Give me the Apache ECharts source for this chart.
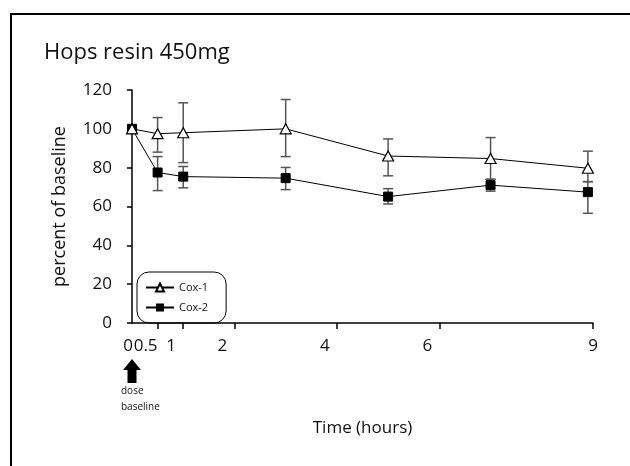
<!DOCTYPE html>
<html>
<head>
<meta charset="utf-8">
<style>
  html, body { margin: 0; padding: 0; background: #fff; }
  #main { width: 630px; height: 466px; }
</style>
<script src="https://cdn.jsdelivr.net/npm/echarts@6/dist/echarts.min.js"></script>
</head>
<body>
<div id="main"></div>
<script>
// hours after dose
var times = [0, 0.5, 1, 3, 5, 7, 8.9];
// percent of baseline, mean and error bar ends
var cox1 = [100, 97.5, 98, 100, 86, 84.7, 79.7];
var cox1Low = [100, 88, 82.6, 85.7, 75.8, 74, 72.8];
var cox1High = [100, 105.8, 113.4, 115.1, 94.8, 95.5, 88.5];
var cox2 = [100, 77.5, 75.4, 74.6, 65.1, 71, 67.4];
var cox2Low = [100, 68.2, 69.6, 68.7, 61.3, 67.9, 56.5];
var cox2High = [100, 85.7, 80.6, 80.1, 69.2, 74, 72.8];
// axis ticks
var xTickValues = [0.5, 1, 2, 4, 6, 9];
var xLabelValues = [0, 0.5, 1, 2, 4, 6, 9];

var FONT = 'Open Sans';
var chart = echarts.init(document.getElementById('main'));

function pairs(ys) {
  return times.map(function (t, i) { return [t, ys[i]]; });
}
function errData(lo, hi) {
  return times.map(function (t, i) { return [t, lo[i], hi[i]]; });
}
//误差线
function renderErr(params, api) {
  var x = api.value(0), lo = api.value(1), hi = api.value(2);
  if (lo === hi) return;
  var top = api.coord([x, hi]);
  var bot = api.coord([x, lo]);
  var w = 5;
  var st = { stroke: '#555', lineWidth: 1.5 };
  return {
    type: 'group',
    children: [
      { type: 'line', shape: { x1: top[0], y1: top[1], x2: bot[0], y2: bot[1] }, style: st },
      { type: 'line', shape: { x1: top[0] - w, y1: top[1], x2: top[0] + w, y2: top[1] }, style: st },
      { type: 'line', shape: { x1: bot[0] - w, y1: bot[1], x2: bot[0] + w, y2: bot[1] }, style: st }
    ]
  };
}
//x轴标签 原图中标签略偏左
function xLabel(v) {
  if (v === 9) return '{n|9}';
  if (v === 0) return '{e|0}';
  return '{s|' + v + '}';
}

var labelRich = {
  s: { fontFamily: FONT, fontSize: 17, color: '#111', padding: [0, 24, 0, 0] },
  e: { fontFamily: FONT, fontSize: 17, color: '#111', padding: [0, 8, 0, 0] },
  n: { fontFamily: FONT, fontSize: 17, color: '#111' }
};

var frame = {
  type: 'rect', silent: true,
  shape: { x: 11, y: 14, width: 640, height: 500 },
  style: { fill: 'none', stroke: '#000', lineWidth: 2 }
};

var option = {
  animation: false,
  textStyle: { fontFamily: FONT },
  title: {
    text: 'Hops resin 450mg',
    left: 39, top: 37,
    textStyle: { fontFamily: FONT, fontSize: 22, fontWeight: 'normal', color: '#111' }
  },
  legend: {
    orient: 'vertical',
    left: 137, top: 272,
    itemWidth: 28, itemHeight: 10, itemGap: 9,
    padding: [10, 18, 10, 8],
    borderColor: '#000', borderWidth: 1, borderRadius: 12,
    textStyle: { fontFamily: FONT, fontSize: 11, color: '#111' },
    data: ['Cox-1', 'Cox-2']
  },
  grid: { left: 132, right: 37, top: 90, bottom: 143 },
  xAxis: {
    type: 'value', min: 0, max: 9,
    name: 'Time (hours)', nameLocation: 'middle', nameGap: 97,
    nameTextStyle: { fontFamily: FONT, fontSize: 17, color: '#111' },
    axisLine: { lineStyle: { color: '#000', width: 1.5 } },
    axisTick: { show: true, length: 6, lineStyle: { color: '#000', width: 1.5 }, customValues: xTickValues },
    axisLabel: {
      customValues: xLabelValues, margin: 15,
      fontFamily: FONT, fontSize: 17, color: '#111',
      formatter: xLabel, rich: labelRich
    },
    splitLine: { show: false }
  },
  yAxis: {
    type: 'value', min: 0, max: 120, interval: 20,
    name: 'percent of baseline', nameLocation: 'middle', nameGap: 63,
    nameTextStyle: { fontFamily: FONT, fontSize: 18, color: '#111' },
    axisLine: { show: true, lineStyle: { color: '#000', width: 1.5 } },
    axisTick: { show: true, length: 5, lineStyle: { color: '#000', width: 1.5 } },
    axisLabel: { margin: 20, fontFamily: FONT, fontSize: 17, color: '#111' },
    splitLine: { show: false }
  },
  series: [
    {
      type: 'custom', name: 'err1', renderItem: renderErr,
      data: errData(cox1Low, cox1High), encode: { x: 0, y: [1, 2] }, z: 1, silent: true
    },
    {
      type: 'custom', name: 'err2', renderItem: renderErr,
      data: errData(cox2Low, cox2High), encode: { x: 0, y: [1, 2] }, z: 1, silent: true
    },
    {
      type: 'line', name: 'Cox-2', data: pairs(cox2), z: 3,
      symbol: 'rect', symbolSize: 9,
      lineStyle: { color: '#000', width: 1 },
      itemStyle: { color: '#000', borderColor: '#000' }
    },
    {
      type: 'line', name: 'Cox-1', data: pairs(cox1), z: 4,
      symbol: 'triangle', symbolSize: [11, 10],
      lineStyle: { color: '#000', width: 1 },
      itemStyle: { color: '#fff', borderColor: '#000', borderWidth: 1.2 }
    }
  ],
  graphic: [frame]
};
chart.setOption(option);

// 给药箭头 标注在 t=0 下方
var origin = chart.convertToPixel({ xAxisIndex: 0, yAxisIndex: 0 }, [0, 0]);
var cx = origin[0], ay = origin[1];
chart.setOption({
  graphic: [
    frame,
    {
      type: 'polygon', silent: true,
      shape: { points: [[cx, ay + 36], [cx + 9, ay + 47], [cx + 4.5, ay + 47], [cx + 4.5, ay + 60],
        [cx - 4.5, ay + 60], [cx - 4.5, ay + 47], [cx - 9, ay + 47]] },
      style: { fill: '#000' }
    },
    {
      type: 'text', silent: true, x: cx - 11, y: ay + 68,
      style: { text: 'dose', fontFamily: FONT, fontSize: 10, fill: '#111', verticalAlign: 'middle' }
    },
    {
      type: 'text', silent: true, x: cx - 11, y: ay + 84,
      style: { text: 'baseline', fontFamily: FONT, fontSize: 10, fill: '#111', verticalAlign: 'middle' }
    }
  ]
});
</script>
</body>
</html>
